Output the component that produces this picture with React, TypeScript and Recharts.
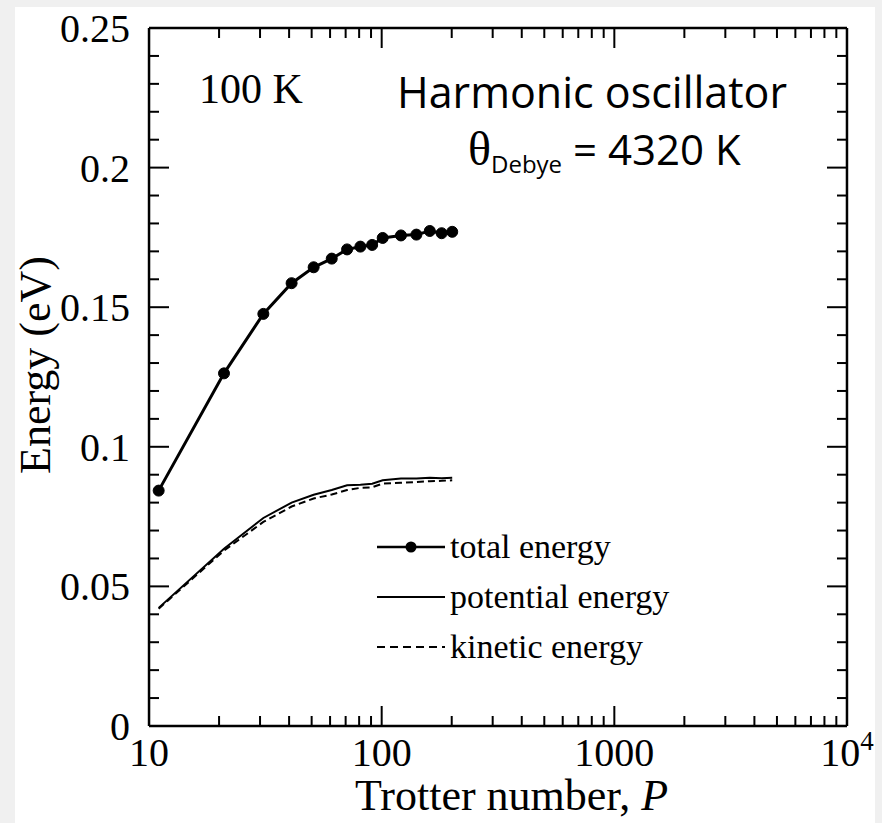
import React from 'react';
import { LineChart, Line, XAxis, YAxis, Legend } from 'recharts';

const trotterP = [11, 21, 31, 41, 51, 61, 71, 81, 91, 101, 121, 141, 161, 181, 201];
const totalEnergy = [0.0843, 0.1263, 0.1476, 0.1586, 0.1643, 0.1674, 0.1707, 0.1717, 0.1723, 0.1748, 0.1757, 0.176, 0.1773, 0.1765, 0.177];
const potentialEnergy = [0.0423, 0.0635, 0.0745, 0.08, 0.0828, 0.0845, 0.0862, 0.0864, 0.0868, 0.088, 0.0886, 0.0886, 0.0889, 0.0887, 0.0889];
const kineticEnergy = [0.042, 0.0628, 0.0731, 0.0786, 0.0815, 0.0829, 0.0845, 0.0853, 0.0855, 0.0868, 0.0871, 0.0874, 0.0877, 0.0878, 0.088];

const xMajorTicks = [10, 100, 1000, 10000];
const xTickLabels = ['10', '100', '1000', '10^4'];
const xMinorTicks = [20, 30, 40, 50, 60, 70, 80, 90, 200, 300, 400, 500, 600, 700, 800, 900, 2000, 3000, 4000, 5000, 6000, 7000, 8000, 9000];
const yMajorTicks = [0, 0.05, 0.1, 0.15, 0.2, 0.25];
const yTickLabels = ['0', '0.05', '0.1', '0.15', '0.2', '0.25'];
const yMinorTicks = [0.01, 0.02, 0.03, 0.04, 0.06, 0.07, 0.08, 0.09, 0.11, 0.12, 0.13, 0.14, 0.16, 0.17, 0.18, 0.19, 0.21, 0.22, 0.23, 0.24];

const seriesNames = ['total energy', 'potential energy', 'kinetic energy'];

const data = trotterP.map((p, i) => ({
  P: p,
  total: totalEnergy[i],
  potential: potentialEnergy[i],
  kinetic: kineticEnergy[i],
}));

const SERIF = '"Liberation Serif", "Times New Roman", serif';
const SANS = '"Open Sans", Lato, sans-serif';
const TICK_FS = 40;

const XTick = (props: any) => {
  const { x, y, payload } = props;
  const idx = xMajorTicks.indexOf(payload.value);
  const label = xTickLabels[idx] ?? String(payload.value);
  if (label.includes('^')) {
    const [base, exp] = label.split('^');
    return (
      <text x={x} y={y} textAnchor="middle" fontFamily={SERIF} fontSize={TICK_FS} fill="#000">
        <tspan>{base}</tspan>
        <tspan dy={-16} fontSize={27}>{exp}</tspan>
      </text>
    );
  }
  return (
    <text x={x} y={y} textAnchor="middle" fontFamily={SERIF} fontSize={TICK_FS} fill="#000">
      {label}
    </text>
  );
};

const YTick = (props: any) => {
  const { x, y, payload } = props;
  const idx = yMajorTicks.findIndex((v) => Math.abs(v - payload.value) < 1e-9);
  const label = yTickLabels[idx] ?? String(payload.value);
  return (
    <text x={x} y={y} dy={14} textAnchor="end" fontFamily={SERIF} fontSize={TICK_FS} fill="#000">
      {label}
    </text>
  );
};

// inward tick mark drawn at the position the axis gives for each tick
const makeMark = (dx: number, dy: number, len: number) => (props: any) => {
  const { x, y } = props;
  return <line x1={x} y1={y} x2={x + dx * len} y2={y + dy * len} stroke="#000" strokeWidth={2} />;
};
const MAJOR = 20;
const MINOR = 10;
const markUpMajor = makeMark(0, -1, MAJOR);
const markUpMinor = makeMark(0, -1, MINOR);
const markDownMajor = makeMark(0, 1, MAJOR);
const markDownMinor = makeMark(0, 1, MINOR);
const markRightMajor = makeMark(1, 0, MAJOR);
const markRightMinor = makeMark(1, 0, MINOR);
const markLeftMajor = makeMark(-1, 0, MAJOR);
const markLeftMinor = makeMark(-1, 0, MINOR);

const LegendContent = () => {
  const styles = [
    { dash: undefined, dot: true, w: 2.5 },
    { dash: undefined, dot: false, w: 2 },
    { dash: '8 5', dot: false, w: 2 },
  ];
  return (
    <div>
      {seriesNames.map((name, i) => (
        <div key={name} style={{ display: 'flex', alignItems: 'center', height: 50 }}>
          <svg width={70} height={20} style={{ display: 'block' }}>
            <line x1={0} y1={10} x2={68} y2={10} stroke="#000" strokeWidth={styles[i].w} strokeDasharray={styles[i].dash} />
            {styles[i].dot && <circle cx={34} cy={10} r={5.5} fill="#000" />}
          </svg>
          <span style={{ fontFamily: SERIF, fontSize: 34, color: '#000', lineHeight: '50px', marginLeft: 3 }}>{name}</span>
        </div>
      ))}
    </div>
  );
};

const axisLineStyle = { stroke: '#000', strokeWidth: 2.5 };
const Z = 0.01;
const common = { type: 'number' as const, allowDataOverflow: true, interval: 0 as const, tickSize: 0, tickMargin: 0, tickLine: false };
const xCommon = { ...common, dataKey: 'P', scale: 'log' as const, domain: [10, 10000], height: Z };
const yCommon = { ...common, domain: [0, 0.25], width: Z };

export default function App() {
  return (
    <div style={{ position: 'absolute', left: 0, top: 0, width: 882, height: 823, background: '#f0f0f0', overflow: 'hidden' }}>
      <div style={{ position: 'absolute', left: 15, top: 7, width: 860, height: 816, background: '#ffffff' }} />
      <div style={{ position: 'absolute', left: 0, top: 0 }}>
        <LineChart width={882} height={823} data={data} margin={{ top: 28, right: 35, bottom: 97, left: 149 }}>
          {/* bottom axis: labels + line */}
          <XAxis xAxisId="x" {...xCommon} ticks={xMajorTicks} tickMargin={40} tick={<XTick />} axisLine={axisLineStyle} />
          <XAxis xAxisId="xb1" {...xCommon} ticks={xMajorTicks} tick={markUpMajor} axisLine={false} />
          <XAxis xAxisId="xb2" {...xCommon} ticks={xMinorTicks} tick={markUpMinor} axisLine={false} />
          {/* top axis */}
          <XAxis xAxisId="xt1" orientation="top" {...xCommon} ticks={xMajorTicks} tick={markDownMajor} axisLine={axisLineStyle} />
          <XAxis xAxisId="xt2" orientation="top" {...xCommon} ticks={xMinorTicks} tick={markDownMinor} axisLine={false} />
          {/* left axis: labels + line */}
          <YAxis yAxisId="y" {...yCommon} ticks={yMajorTicks} tickMargin={19} tick={<YTick />} axisLine={axisLineStyle} />
          <YAxis yAxisId="yl1" {...yCommon} ticks={yMajorTicks} tick={markRightMajor} axisLine={false} />
          <YAxis yAxisId="yl2" {...yCommon} ticks={yMinorTicks} tick={markRightMinor} axisLine={false} />
          {/* right axis */}
          <YAxis yAxisId="yr1" orientation="right" {...yCommon} ticks={yMajorTicks} tick={markLeftMajor} axisLine={axisLineStyle} />
          <YAxis yAxisId="yr2" orientation="right" {...yCommon} ticks={yMinorTicks} tick={markLeftMinor} axisLine={false} />
          <Line xAxisId="x" yAxisId="y" dataKey="total" name={seriesNames[0]} stroke="#000" strokeWidth={3}
            dot={{ r: 5.5, fill: '#000', stroke: '#000', strokeWidth: 1 }} activeDot={false} isAnimationActive={false} />
          <Line xAxisId="x" yAxisId="y" dataKey="potential" name={seriesNames[1]} stroke="#000" strokeWidth={2}
            dot={false} activeDot={false} isAnimationActive={false} />
          <Line xAxisId="x" yAxisId="y" dataKey="kinetic" name={seriesNames[2]} stroke="#000" strokeWidth={2} strokeDasharray="7 4"
            dot={false} activeDot={false} isAnimationActive={false} />
          <Legend layout="horizontal" align="center" verticalAlign="middle" content={<LegendContent />}
            wrapperStyle={{ position: 'absolute', left: 377, top: 522, width: 340 }} />
        </LineChart>
      </div>
      <svg width={882} height={823} style={{ position: 'absolute', left: 0, top: 0, pointerEvents: 'none' }}>
        <text x={199} y={103} fontFamily={SERIF} fontSize={42} fill="#000">100 K</text>
        <text x={397} y={108} fontFamily={SANS} fontSize={43} fill="#000">Harmonic oscillator</text>
        <text x={468} y={165} fontFamily={SANS} fontSize={42} fill="#000">
          <tspan fontFamily={SERIF} fontSize={48}>θ</tspan>
          <tspan fontSize={24} dy={8}>Debye</tspan>
          <tspan dy={-8}> = 4320 K</tspan>
        </text>
        <text x={355} y={810} fontFamily={SERIF} fontSize={44} fill="#000">
          Trotter number, <tspan fontStyle="italic">P</tspan>
        </text>
        <text transform="translate(50 365) rotate(-90)" textAnchor="middle" fontFamily={SERIF} fontSize={44} fill="#000">
          Energy (eV)
        </text>
      </svg>
    </div>
  );
}
